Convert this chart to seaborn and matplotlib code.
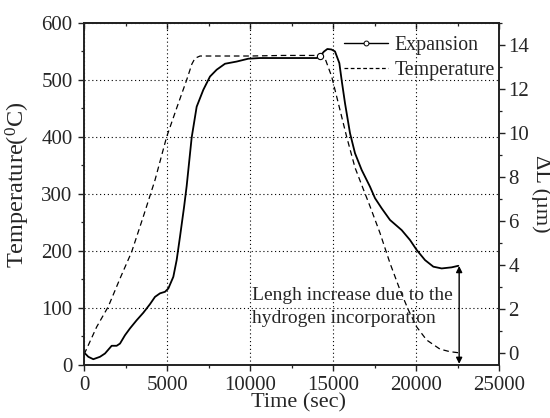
import numpy as np
import pandas as pd
import seaborn as sns
import matplotlib
matplotlib.use("Agg")
import matplotlib.pyplot as plt
from matplotlib.ticker import MultipleLocator
from matplotlib.lines import Line2D

# ---- data ----
exp_time = [0, 260, 560, 964, 1265, 1667, 1968, 2169, 2470, 2771, 3173, 3574, 3976,
            4277, 4578, 4880, 5080, 5381, 5582, 5783, 6030, 6185, 6486, 6787, 7189,
            7590, 7992, 8494, 9196, 9900, 10602, 13012, 14016, 14216, 14450, 14659,
            14900, 15120, 15382, 15522, 15723, 16024, 16325, 16727, 17229, 17530,
            17932, 18434, 19137, 19639, 20040, 20542, 21044, 21546, 22148, 22550]
exp_dl = [0.05, -0.15, -0.26, -0.15, 0.0, 0.35, 0.35, 0.45, 0.83, 1.14, 1.51, 1.85, 2.24,
          2.57, 2.73, 2.80, 2.95, 3.48, 4.24, 5.30, 6.66, 7.60, 9.80, 11.2, 11.97,
          12.57, 12.88, 13.15, 13.25, 13.38, 13.41, 13.41, 13.41, 13.48, 13.70, 13.82,
          13.80, 13.71, 13.18, 12.4, 11.36, 10.0, 9.09, 8.33, 7.57, 7.05,
          6.59, 6.06, 5.60, 5.15, 4.70, 4.24, 3.94, 3.86, 3.91, 3.98]

temp_time = [0, 120, 763, 1466, 2169, 2872, 3574, 4277, 4980, 5600, 6185, 6500, 6686,
             6988, 8000, 10000, 12000, 14000, 14350, 14518, 14919, 15321, 15823, 16325,
             16827, 17229, 17831, 18434, 19036, 19538, 20040, 20642, 21445, 22047, 22550]
temp_c = [18, 25, 66, 102, 151, 198, 260, 324, 400, 452, 500, 528, 538,
          542, 542, 542, 543, 543, 542, 538, 506, 459, 400, 346,
          308, 278, 231, 178, 131, 96, 66, 43, 27, 22.5, 20.7]

xticks = [0, 5000, 10000, 15000, 20000, 25000]
yticks_left = [0, 100, 200, 300, 400, 500, 600]
yticks_right = [0, 2, 4, 6, 8, 10, 12, 14]

annot_text = "Lengh increase due to the\nhydrogen incorporation"

# ---- styling ----
sns.set_style("ticks")
plt.rcParams["font.family"] = ["Liberation Serif", "DejaVu Serif"]
plt.rcParams["mathtext.fontset"] = "custom"
plt.rcParams["mathtext.rm"] = "Liberation Serif"
plt.rcParams["mathtext.it"] = "Liberation Serif:italic"

FS = 15
fig = plt.figure(figsize=(5.5, 4.18), dpi=100)
ax = fig.add_axes([84/550, 1-364.5/418, (499-84)/550, (364.5-23)/418])
ax2 = ax.twinx()

df_t = pd.DataFrame({"time": temp_time, "temp": temp_c})
df_e = pd.DataFrame({"time": exp_time, "dl": exp_dl})

sns.lineplot(data=df_t, x="time", y="temp", ax=ax, color="black", lw=0.9,
             linestyle=(0, (4.5, 3)), sort=False, legend=False)
mark_idx = exp_time.index(14216)
sns.lineplot(data=df_e, x="time", y="dl", ax=ax2, color="black", lw=1.3,
             sort=False, legend=False, marker="o", markersize=4.5,
             markerfacecolor="white", markeredgecolor="black", markeredgewidth=0.8,
             markevery=[mark_idx])

ax.set_xlim(0, 25000)
ax.set_ylim(0, 600)
ax2.set_ylim(-0.5, 15)

ax.set_xticks(xticks)
ax.set_yticks(yticks_left)
ax2.set_yticks(yticks_right)
ax.xaxis.set_minor_locator(MultipleLocator(2500))
ax.yaxis.set_minor_locator(MultipleLocator(50))
ax2.yaxis.set_minor_locator(MultipleLocator(1))

ax.grid(True, which="major", color="black", linestyle=(0, (1, 2.5)), lw=0.8)
ax.set_axisbelow(True)

for a in (ax, ax2):
    for s in a.spines.values():
        s.set_linewidth(1.2)
        s.set_color("#222222")
    a.tick_params(which="major", length=4.2, width=1.0, direction="out",
                  labelsize=FS, color="#222222", pad=4)
    a.tick_params(which="minor", length=2.4, width=0.9, direction="out", color="#222222")
ax2.tick_params(axis="y", which="major", pad=2.5)

sec = ax.secondary_xaxis("top")
sec.set_xticks(xticks)
sec.xaxis.set_minor_locator(MultipleLocator(2500))
sec.tick_params(which="major", direction="in", length=4.2, width=1.0, labeltop=False)
sec.tick_params(which="minor", direction="in", length=2.4, width=0.9)
sec.spines["top"].set_linewidth(1.2)

ax.set_xlabel("Time (sec)", fontsize=16)
ax.xaxis.set_label_coords(0.517, -0.085)
ax.set_ylabel("Temperature($^{0}$C)", fontsize=17.5)
ax.yaxis.set_label_coords(-0.125, 0.525)
ax2.set_ylabel("ΔL (µm)", fontsize=16, rotation=270, va="bottom")
ax2.yaxis.set_label_coords(1.078, 0.5)

ax2.annotate("", xy=(22600, -0.47), xytext=(22600, 3.97),
             arrowprops=dict(arrowstyle="<|-|>", color="black", lw=1.0,
                             mutation_scale=9, shrinkA=0, shrinkB=0))
ax2.text(10150, 3.0, annot_text, fontsize=14, ha="left", va="top",
         linespacing=1.4)

handles = [Line2D([], [], color="black", lw=1.0, marker="o", markersize=3.5,
                  markerfacecolor="white", markeredgewidth=0.7),
           Line2D([], [], color="black", lw=0.9, linestyle=(0, (3, 2)))]
ax2.legend(handles, ["Expansion", "Temperature"], loc="upper right",
           bbox_to_anchor=(1.0, 0.974), frameon=False, fontsize=14.3,
           handlelength=2.2, handletextpad=0.35, labelspacing=0.3,
           borderaxespad=0.0, borderpad=0.2)

fig.savefig("out.png", dpi=100)
